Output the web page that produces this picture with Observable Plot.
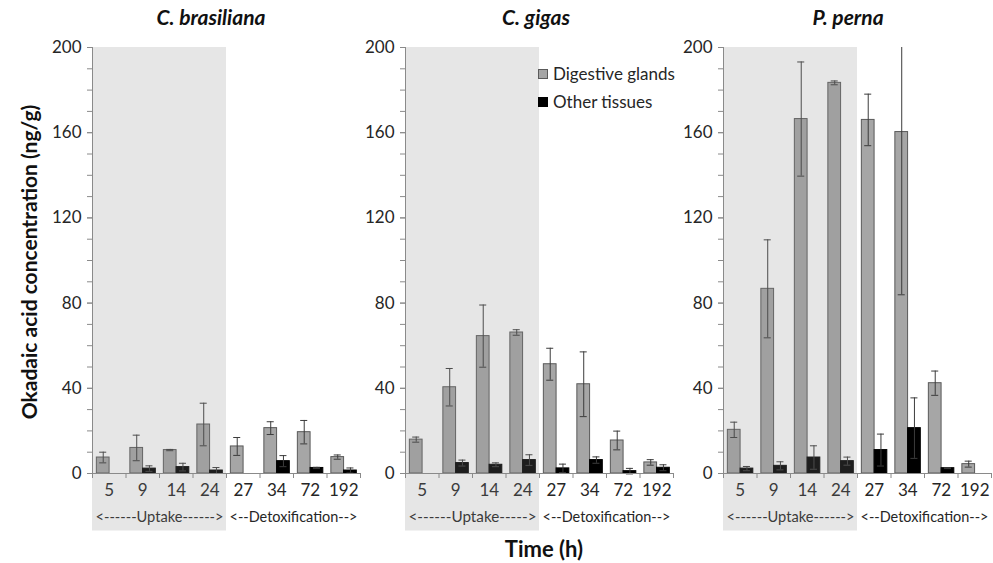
<!DOCTYPE html>
<html>
<head>
<meta charset="utf-8">
<script src="https://cdn.jsdelivr.net/npm/d3@7"></script>
<script src="https://cdn.jsdelivr.net/npm/@observablehq/plot@0.6"></script>
<style>
  body { margin: 0; background: #fff; }
  #root { position: relative; width: 993px; height: 563px; font-family: Lato, "Open Sans", sans-serif; color: #262626; overflow: hidden; }
  .panel { position: absolute; top: 0; }
  .title { position: absolute; top: 4px; font-weight: bold; font-style: italic; font-size: 21px; transform: translateX(-50%); white-space: nowrap; color: #111; }
  .ylab { position: absolute; left: 28px; top: 262px; transform: translate(-50%, -50%) rotate(-90deg); font-weight: bold; font-size: 21px; white-space: nowrap; color: #111; }
  .xlab { position: absolute; left: 544px; top: 535px; transform: translateX(-50%); font-weight: bold; font-size: 22px; white-space: nowrap; color: #111; }
  .legend { position: absolute; left: 538px; font-size: 17px; white-space: nowrap; display: flex; align-items: center; }
  .legend .sw { width: 10px; height: 10px; margin-right: 5px; box-sizing: border-box; }
</style>
</head>
<body>
<div id="root"></div>
<script>
// ---- data ----
const categories = ["5", "9", "14", "24", "27", "34", "72", "192"];
const yTicks = [0, 40, 80, 120, 160, 200];
const species = ["C. brasiliana", "C. gigas", "P. perna"];
const seriesNames = ["Digestive glands", "Other tissues"];
const phaseStarts = ["5", "27"];

const brasilianaDigestive = [7.5, 12, 11, 23, 12.7, 21.3, 19.4, 7.7];
const brasilianaDigestiveErr = [2.5, 6, 0.3, 10, 4.2, 3, 5.5, 1];
const brasilianaOther = [null, 2.3, 3, 1.4, null, 5.8, 2.6, 1.4];
const brasilianaOtherErr = [null, 1.3, 1.8, 1.4, null, 2.6, 0.3, 1.2];
const brasilianaPhases = ["<------Uptake------>", "<--Detoxification-->"];

const gigasDigestive = [15.9, 40.5, 64.5, 66.2, 51.3, 41.9, 15.5, 5.2];
const gigasDigestiveErr = [1.2, 8.8, 14.6, 1.3, 7.5, 15.2, 4.4, 1.3];
const gigasOther = [null, 4.9, 4.1, 6.3, 2.4, 6.3, 1.1, 2.7];
const gigasOtherErr = [null, 1.4, 0.9, 2.5, 2, 1.5, 1.3, 1.4];
const gigasPhases = ["<------Uptake----->", "<--Detoxification-->"];

const pernaDigestive = [20.5, 86.7, 166.4, 183.4, 166, 160.3, 42.4, 4.4];
const pernaDigestiveErr = [3.6, 23, 26.8, 0.9, 12.1, 76.4, 5.7, 1.4];
const pernaOther = [2.3, 3.6, 7.5, 5.8, 11, 21.3, 2.5, null];
const pernaOtherErr = [1, 1.9, 5.5, 1.9, 7.5, 14.2, 0.2, null];
const pernaPhases = ["<------Uptake------>", "<--Detoxification-->"];

// ---- styling / layout ----
const axisGray = "#8a8a8a";
const digestFill = "#a6a6a6", digestStroke = "#5a5a5a";
const otherFill = "#000000", otherStroke = "#000000";
const errColor = "#3c3c3c";
const plotW = 268;
const yMax = 200;

function panel(digest, digestErr, other, otherErr, phaseLabels, marginLeft) {
  const n = categories.length;
  const dg = categories.map((c, i) => ({i, v: digest[i], e: digestErr[i], x1: i + 0.13, x2: i + 0.51}))
    .filter(d => d.v != null);
  const ot = categories.map((c, i) => ({i, v: other[i], e: otherErr[i], x1: i + 0.51, x2: i + 0.89}))
    .filter(d => d.v != null);
  const errs = dg.concat(ot).map(d => ({
    x: (d.x1 + d.x2) / 2, lo: d.v - d.e, hi: Math.min(d.v + d.e, yMax), clipped: d.v + d.e > yMax
  }));
  const caps = [];
  errs.forEach(d => {
    caps.push({x: d.x, y: d.lo});
    if (!d.clipped) caps.push({x: d.x, y: d.hi});
  });
  const startIdx = phaseStarts.map(s => categories.indexOf(s));
  const phases = phaseLabels.map((label, k) => ({
    label, x1: startIdx[k], x2: k + 1 < startIdx.length ? startIdx[k + 1] : n
  }));
  const uptake = [phases[0]];
  const capHalf = 0.105;

  const svg = Plot.plot({
    width: marginLeft + plotW + 2,
    height: 540,
    marginLeft, marginRight: 2, marginTop: 47, marginBottom: 67,
    x: {domain: [0, n], axis: null},
    y: {domain: [0, yMax], axis: null},
    style: {background: "transparent", fontFamily: "Lato, 'Open Sans', sans-serif", fontSize: "17px", color: "#262626", overflow: "visible"},
    marks: [
      Plot.axisY({ticks: d3.range(0, yMax + 1, 10), tickSize: 5, tickFormat: () => "", stroke: axisGray, label: null}),
      Plot.axisY({ticks: yTicks, tickSize: 5, tickPadding: 6, stroke: axisGray, fill: "#262626", fontSize: 17, label: null}),
      Plot.axisX({ticks: d3.range(0, n + 1), tickSize: 5, tickFormat: () => "", stroke: axisGray, label: null}),
      Plot.rectY(dg, {x1: "x1", x2: "x2", y: "v", fill: digestFill, stroke: digestStroke, strokeWidth: 1}),
      Plot.rectY(ot, {x1: "x1", x2: "x2", y: "v", fill: otherFill, stroke: otherStroke, strokeWidth: 1}),
      Plot.ruleX(errs, {x: "x", y1: "lo", y2: "hi", stroke: errColor, strokeWidth: 1}),
      Plot.ruleY(caps, {y: "y", x1: d => d.x - capHalf, x2: d => d.x + capHalf, stroke: errColor, strokeWidth: 1}),
      Plot.ruleY([0], {stroke: axisGray}),
      Plot.ruleX([0], {stroke: axisGray}),
      Plot.text(categories, {x: (d, i) => i + 0.5, text: d => d, frameAnchor: "bottom", dy: 22, fontSize: 17, fill: "#262626"}),
      Plot.text(phases, {x: d => (d.x1 + d.x2) / 2, text: "label", frameAnchor: "bottom", dy: 48, fontSize: 16, fill: "#262626", className: "phase-label"}),
      Plot.rect(uptake, {x1: "x1", x2: "x2", y1: -27, y2: yMax, fill: "#8c8c8c", fillOpacity: 0.215})
    ]
  });
  // stretch each phase label across its phase span
  const bandW = plotW / n;
  svg.querySelectorAll(".phase-label text").forEach((t, k) => {
    const span = (phases[k].x2 - phases[k].x1) * bandW;
    t.setAttribute("textLength", span - 6);
    t.setAttribute("lengthAdjust", "spacingAndGlyphs");
  });
  return svg;
}

const root = document.getElementById("root");
const panels = [
  {left: 0, ml: 92, args: [brasilianaDigestive, brasilianaDigestiveErr, brasilianaOther, brasilianaOtherErr, brasilianaPhases], tx: 211},
  {left: 340, ml: 65, args: [gigasDigestive, gigasDigestiveErr, gigasOther, gigasOtherErr, gigasPhases], tx: 536},
  {left: 660, ml: 63, args: [pernaDigestive, pernaDigestiveErr, pernaOther, pernaOtherErr, pernaPhases], tx: 848}
];
panels.forEach((p, k) => {
  const svg = panel(...p.args, p.ml);
  const wrap = document.createElement("div");
  wrap.className = "panel";
  wrap.style.left = p.left + "px";
  wrap.appendChild(svg);
  root.appendChild(wrap);
  const t = document.createElement("div");
  t.className = "title";
  t.style.left = p.tx + "px";
  t.textContent = species[k];
  root.appendChild(t);
});

const yl = document.createElement("div");
yl.className = "ylab";
yl.textContent = "Okadaic acid concentration (ng/g)";
root.appendChild(yl);

const xl = document.createElement("div");
xl.className = "xlab";
xl.textContent = "Time (h)";
root.appendChild(xl);

const legendStyles = [
  {fill: digestFill, stroke: digestStroke, top: 63},
  {fill: otherFill, stroke: otherStroke, top: 91}
];
seriesNames.forEach((name, k) => {
  const row = document.createElement("div");
  row.className = "legend";
  row.style.top = legendStyles[k].top + "px";
  const sw = document.createElement("span");
  sw.className = "sw";
  sw.style.background = legendStyles[k].fill;
  sw.style.border = "1px solid " + legendStyles[k].stroke;
  row.appendChild(sw);
  const tx = document.createElement("span");
  tx.textContent = name;
  row.appendChild(tx);
  root.appendChild(row);
});
</script>
</body>
</html>
